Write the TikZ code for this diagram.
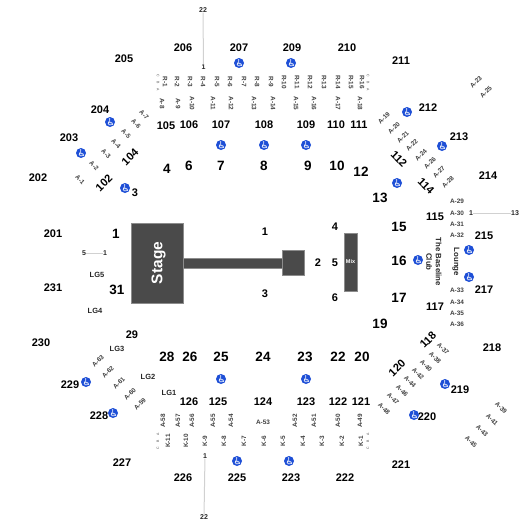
\documentclass[tikz,border=0pt]{standalone}
\usepackage{fontspec}
\setmainfont{Liberation Sans}
\usetikzlibrary{positioning}
\definecolor{block}{HTML}{4A4A4A}
\definecolor{chair}{HTML}{1E4FD6}
\begin{document}
\begin{tikzpicture}[
    x=1pt, y=-1pt,
    seat/.style={inner sep=0pt, font=\fontsize{11}{12}\selectfont\bfseries},
    big/.style={inner sep=0pt, font=\fontsize{13.5}{15}\selectfont\bfseries},
    floor/.style={inner sep=0pt, font=\fontsize{11}{12}\selectfont\bfseries},
    row/.style={inner sep=0pt, font=\fontsize{6.4}{7}\selectfont\bfseries, text=black!75},
    lg/.style={inner sep=0pt, font=\fontsize{7.5}{8}\selectfont\bfseries, text=black!85},
    mini/.style={inner sep=0pt, font=\fontsize{3.5}{4}\selectfont, text=black!70},
    aisle/.style={inner sep=0pt, font=\fontsize{7}{7}\selectfont\bfseries, text=black!85},
    club/.style={inner sep=0pt, rotate=-90, align=center, font=\fontsize{7.8}{9.5}\selectfont\bfseries, text=black!85},
    block/.style={fill=block, draw=black!45, line width=0.5pt},
    gap/.style={draw=black!18, line width=1pt},
    wchair/.pic={
        \fill[chair] (0,0) circle (5);
        \fill[white] (-0.4,-3) circle (0.8);
        \draw[white, line width=0.7pt] (-0.4,-2) -- (-0.2,0.8) -- (1.8,0.8) -- (2.8,2.8);
        \draw[white, line width=0.6pt] (-1.3,-0.5) .. controls (-3.3,2.8) and (1,4) .. (1.6,2);
    }
]
\useasboundingbox (0,0) rectangle (525,525);

\fill[block] (183,258) rectangle (282,268);
\node[block, minimum width=52pt, minimum height=80pt, inner sep=0pt] (stage) at (157,263) {};
\node[block, minimum width=22pt, minimum height=25pt, inner sep=0pt] (catwalk) at (293,262.5) {};
\node[block, minimum width=13pt, minimum height=58pt, inner sep=0pt] (mix) at (350.5,262) {};
\node[rotate=90, text=white, font=\fontsize{15.5}{16}\selectfont\bfseries] (stagetxt) at (158.5,263) {Stage};
\node[text=white, inner sep=0pt, font=\fontsize{5.5}{6}\selectfont\bfseries] (mixtxt) at (mix) {Mix};

\foreach \x/\y/\t in {183/48/206, 239/48/207, 292/48/209, 347/48/210, 124/59/205, 401/61/211,
    100/110/204, 428/108/212, 69/138/203, 459/137/213, 38/178/202, 488/176/214, 53/234/201,
    484/236/215, 53/288/231, 484/290/217, 41/343/230, 492/348/218, 70/385/229, 460/390/219,
    99/416/228, 427/417/220, 122/463/227, 401/465/221, 183/478/226, 237/478/225, 291/478/223, 345/478/222,
    166/126/105, 189/125/106, 221/125/107, 264/125/108, 306/125/109, 336/125/110, 359/125/111,
    435/217/115, 435/307/117, 361/402/121, 338/402/122, 306/402/123, 263/402/124, 218/402/125, 189/402/126}
    \node[seat] (s\t) at (\x,\y) {\t};
\foreach \x/\y/\t in {130/157/104, 104/183/102, 428/340/118, 397/368/120}
    \node[seat, rotate=45] (s\t) at (\x,\y) {\t};
\foreach \x/\y/\t in {399/159/112, 426/186/114}
    \node[seat, rotate=-45] (s\t) at (\x,\y) {\t};

\foreach \x/\y/\t in {116/234/1, 117/290/31, 167/169/4, 189/166/6, 221/166/7, 264/166/8, 308/166/9,
    337/166/10, 361/172/12, 380/198/13, 399/227/15, 399/261/16, 399/298/17, 380/324/19,
    362/357/20, 338/357/22, 305/357/23, 263/357/24, 221/357/25, 190/357/26, 167/357/28}
    \node[big] (b\t) at (\x,\y) {\t};
\foreach \x/\y/\t in {135/193/3, 132/335/29}
    \node[seat] (b\t) at (\x,\y) {\t};
\foreach \x/\y/\t in {265/232/1, 318/263/2, 265/294/3, 335/227/4, 335/263/5, 335/298/6}
    \node[floor] (f\t) at (\x,\y) {\t};

\foreach \x/\t in {165/1, 177/2, 190/3, 203/4, 217/5, 230/6, 244/7, 257/8, 271/9, 284/10,
    297/11, 310/12, 324/13, 338/14, 351/15, 362/16}
    \node[row, rotate=-90] (r\t) at (\x,82) {R-\t};
\foreach \x/\t in {162/8, 178/9, 192/10, 213/11, 231/12, 254/13, 273/14, 296/15, 314/16, 338/17, 360/18}
    \node[row, rotate=-90] (a\t) at (\x,103.5) {A-\t};
\foreach \x/\t in {163/58, 178/57, 192/56, 213/55, 231/54, 295/52, 314/51, 338/50, 360/49}
    \node[row, rotate=90] (a\t) at (\x,421) {A-\t};
\node[row] (a53) at (263,422) {A-53};
\foreach \x/\t in {168/11, 186/10, 205/9, 224/8, 244/7, 264/6, 283/5, 303/4, 322/3, 342/2, 361/1}
    \node[row, rotate=90] (k\t) at (\x,441) {K-\t};

\foreach \x/\y/\t in {144/115/7, 136/124/6, 126/134/5, 116/144/4, 106/154/3, 94/166/2, 80/180/1,
    443/349/37, 435/358/38, 426/366/40, 418/374/42, 410/382/44, 402/391/46, 393/399/47, 384/409/48,
    501/408/39, 492/420/41, 482/431/43, 471/442/45}
    \node[row, rotate=-45] (a\t) at (\x,\y) {A-\t};
\foreach \x/\y/\t in {384/118/19, 394/128/20, 403/137/21, 412/145/22, 421/155/24, 430/163/26,
    439/172/27, 448/182/28, 476/82/23, 486/92/25, 98/361/63, 108/372/62, 119/383/61, 130/394/60, 140/404/59}
    \node[row, rotate=45] (a\t) at (\x,\y) {A-\t};
\foreach \y/\t in {201/29, 213/30, 224/31, 235/32, 290/33, 302/34, 313/35, 324/36}
    \node[row] (a\t) at (457,\y) {A-\t};

\foreach \x/\y/\t in {97/275/5, 95/311/4, 117/349/3, 148/377/2, 169/393/1}
    \node[lg] (lg\t) at (\x,\y) {LG\t};

\foreach \y/\t/\s in {76/C/tc, 83/B/tb, 90/A/ta}
    \node[mini, rotate=-90] (l\s) at (158,\y) {\t};
\foreach \y/\t/\s in {76/C/tc, 83/B/tb, 90/A/ta}
    \node[mini, rotate=-90] (m\s) at (368,\y) {\t};
\foreach \y/\t/\s in {434/A/ba, 441/B/bb, 448/C/bc}
    \node[mini, rotate=90] (l\s) at (158,\y) {\t};
\foreach \y/\t/\s in {434/A/ba, 441/B/bb, 448/C/bc}
    \node[mini, rotate=90] (m\s) at (368,\y) {\t};

\node[club] (baseline) at (434,262) {The Baseline\\Club};
\node[club] (lounge) at (456,262) {Lounge};

\node[aisle] (top22) at (203,10) {22};
\node[aisle] (top1) at (203.5,67) {1};
\node[aisle] (bot1) at (205,456) {1};
\node[aisle] (bot22) at (204,517) {22};
\node[aisle] (left5) at (84,253) {5};
\node[aisle] (left1) at (105,253) {1};
\node[aisle] (right1) at (471,213) {1};
\node[aisle] (right13) at (515,213) {13};
\draw[gap] (top22) -- (top1);
\draw[gap] (bot1) -- (bot22);
\draw[gap] (left5) -- (left1);
\draw[gap] (right1) -- (right13);

\foreach \x/\y in {239/63, 291/63, 110/122, 81/153, 125/188, 221/145, 264/145, 306/145,
    407/112, 442/146, 397/183, 418/260, 469/250, 469/277, 86/382, 113/413,
    221/379, 306/379, 237/461, 289/461, 445/384, 414/415}
    \pic at (\x,\y) {wchair};
\end{tikzpicture}
\end{document}
